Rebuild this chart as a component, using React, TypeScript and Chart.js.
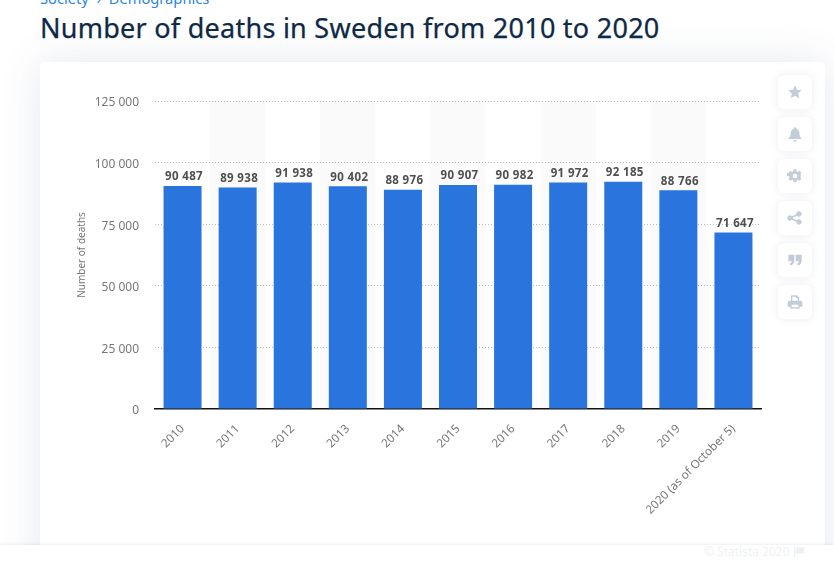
import { useEffect, useRef } from "react";
import { Chart, registerables } from "chart.js";

Chart.register(...registerables);

const years = ["2010", "2011", "2012", "2013", "2014", "2015", "2016", "2017", "2018", "2019", "2020 (as of October 5)"];
const deaths = [90487, 89938, 91938, 90402, 88976, 90907, 90982, 91972, 92185, 88766, 71647];
const yTicks = [0, 25000, 50000, 75000, 100000, 125000];

const FONT = '"Noto Sans", sans-serif';
const fmt = (v: number) => String(v).replace(/\B(?=(\d{3})+$)/g, " ");

const zebra = {
  id: "zebra",
  beforeDraw(chart: any) {
    const { ctx, chartArea, scales } = chart;
    const step = chartArea.width / years.length;
    ctx.save();
    ctx.fillStyle = "#fafafa";
    years.forEach((_, i) => {
      if (i % 2 === 1) {
        ctx.fillRect(scales.x.getPixelForValue(i) - step / 2, chartArea.top, step, chartArea.height);
      }
    });
    ctx.restore();
  },
};

const valueLabels = {
  id: "valueLabels",
  afterDatasetsDraw(chart: any) {
    const { ctx } = chart;
    ctx.save();
    ctx.font = `bold 11.5px ${FONT}`;
    ctx.letterSpacing = "0.35px";
    ctx.fillStyle = "#4f4f4f";
    ctx.textAlign = "center";
    ctx.textBaseline = "middle";
    chart.getDatasetMeta(0).data.forEach((bar: any, i: number) => {
      ctx.fillText(fmt(deaths[i]), bar.x + 1.5, bar.y - 9);
    });
    ctx.restore();
  },
};

const iconPaths = [
  "M12 2l3 6.6 7 .8-5.2 4.8 1.5 7L12 17.6 5.7 21.2l1.5-7L2 9.4l7-.8z",
  "M12 2a2 2 0 0 1 2 2c3 1 4.500 3.500 4.500 7 0 4 1.500 5.500 3 7v1.500h-19V18c1.500-1.500 3-3 3-7 0-3.500 1.500-6 4.500-7a2 2 0 0 1 2-2zM9.500 21h5a2.500 2.500 0 0 1-5 0z",
  "M10 2h4l.5 3 2 .9 2.500-1.700 2.800 2.800L20.100 9.500l.9 2 3 .5v0h-3l-.9 2 1.700 2.500-2.800 2.800-2.500-1.700-2 .9-.5 3h-4l-.5-3-2-.9-2.500 1.700-2.800-2.800 1.700-2.500-.9-2-3-.5v-4l3-.5.9-2L2.200 7l2.800-2.800 2.500 1.700 2-.9zM12 8.500a3.500 3.500 0 1 0 0 7 3.500 3.500 0 0 0 0-7z",
  "M18 2a4 4 0 1 1-3 6.700l-6.100 2.500a4 4 0 0 1 0 1.600l6.100 2.500a4 4 0 1 1-1 2.200l-6.500-2.700a4 4 0 1 1 0-5.600L14 6.500A4 4 0 0 1 18 2z",
  "M2 4h9v9c0 4-2.500 6.500-6 7l-1-2.500c2-.5 3-1.800 3-3.500H2zM13 4h9v9c0 4-2.500 6.500-6 7l-1-2.500c2-.5 3-1.800 3-3.500h-5z",
  "M6 2h9l3 3v5h2a3 3 0 0 1 3 3v6h-4v3H5v-3H1v-6a3 3 0 0 1 3-3h2zM8 4v6h8V6h-3V4zM7 16v4h10v-4z",
];

export default function App() {
  const ref = useRef<HTMLCanvasElement>(null);

  useEffect(() => {
    document.body.style.margin = "0";
    document.body.style.background = "#fff";
    const chart = new Chart(ref.current!, {
      type: "bar",
      data: {
        labels: years,
        datasets: [
          {
            data: deaths,
            backgroundColor: "#2975dd",
            barPercentage: 0.69,
            categoryPercentage: 1,
          },
        ],
      },
      plugins: [zebra, valueLabels],
      options: {
        animation: false,
        responsive: false,
        layout: { padding: { left: 76, right: 73, top: 101, bottom: 0 } },
        plugins: { legend: { display: false }, tooltip: { enabled: false } },
        scales: {
          x: {
            grid: { display: false, drawTicks: false },
            border: { display: true, color: "#111", width: 1.5 },
            afterFit: (s: any) => {
              s.height = 153;
            },
            ticks: {
              minRotation: 45,
              maxRotation: 45,
              autoSkip: false,
              padding: 13,
              color: "#777",
              font: { family: FONT, size: 11.7 },
            },
          },
          y: {
            min: 0,
            max: 125000,
            afterFit: (s: any) => {
              s.width = 79;
            },
            afterBuildTicks: (s: any) => {
              s.ticks = yTicks.map((value) => ({ value }));
            },
            grid: {
              drawTicks: false,
              color: (c: any) => (c.tick && c.tick.value === 0 ? "transparent" : "#bdbdbd"),
            },
            border: { display: false, dash: [1, 2] },
            title: {
              display: true,
              text: "Number of deaths",
              color: "#777",
              font: { family: FONT, size: 10 },
              padding: 0,
            },
            ticks: {
              padding: 16,
              color: "#777",
              // blank first line with a small line height: drops the label 2px under its gridline
              font: { family: FONT, size: 12, lineHeight: 0.33 },
              callback: (v: any) => ["", fmt(Number(v))],
            },
          },
        },
      },
    });
    return () => chart.destroy();
  }, []);

  return (
    <div style={{ position: "absolute", left: 0, top: 0, width: 834, height: 562, overflow: "hidden", background: "#fff", fontFamily: FONT }}>
      <div style={{ position: "absolute", left: 40, top: -12, fontSize: 14.7, color: "#2b86e0", whiteSpace: "nowrap" }}>
        Society &nbsp;›&nbsp; Demographics
      </div>
      <div style={{ position: "absolute", left: 40, top: 10, fontSize: 27, fontWeight: 400, lineHeight: "36px", letterSpacing: 0.26, color: "#0f2a47", WebkitTextStroke: "0.25px #0f2a47", whiteSpace: "nowrap" }}>
        Number of deaths in Sweden from 2010 to 2020
      </div>
      <div style={{ position: "absolute", left: 40, top: 62, width: 785, height: 520, background: "#fff", borderRadius: 5, boxShadow: "0 0 40px rgba(60,80,120,0.13)" }} />
      <canvas ref={ref} width={834} height={562} style={{ position: "absolute", left: 0, top: 0, display: "block" }} />
      {iconPaths.map((d, i) => (
        <div
          key={i}
          style={{ position: "absolute", left: 778, top: 75 + i * 42, width: 34, height: 34, background: "#fff", borderRadius: 6, boxShadow: "0 0 8px rgba(60,80,120,0.10)", display: "flex", alignItems: "center", justifyContent: "center" }}
        >
          <svg width="16" height="16" viewBox="0 0 24 24">
            <path d={d} fill="#c3ccd9" fillRule="evenodd" />
          </svg>
        </div>
      ))}
      <div style={{ position: "absolute", left: 0, top: 545, width: 834, height: 17, background: "#fff", boxShadow: "0 -1px 3px rgba(60,80,120,0.10)" }}>
        <div style={{ position: "absolute", left: 704, top: 0, fontSize: 12, lineHeight: "14px", color: "#eef0f3", whiteSpace: "nowrap" }}>© Statista 2020</div>
        <svg style={{ position: "absolute", left: 794, top: 2 }} width="11" height="10" viewBox="0 0 11 10">
          <path d="M0 0h1.500v10H0zM2 0.500h9l-1.500 3 1.500 3H2z" fill="#eef0f3" />
        </svg>
      </div>
    </div>
  );
}
